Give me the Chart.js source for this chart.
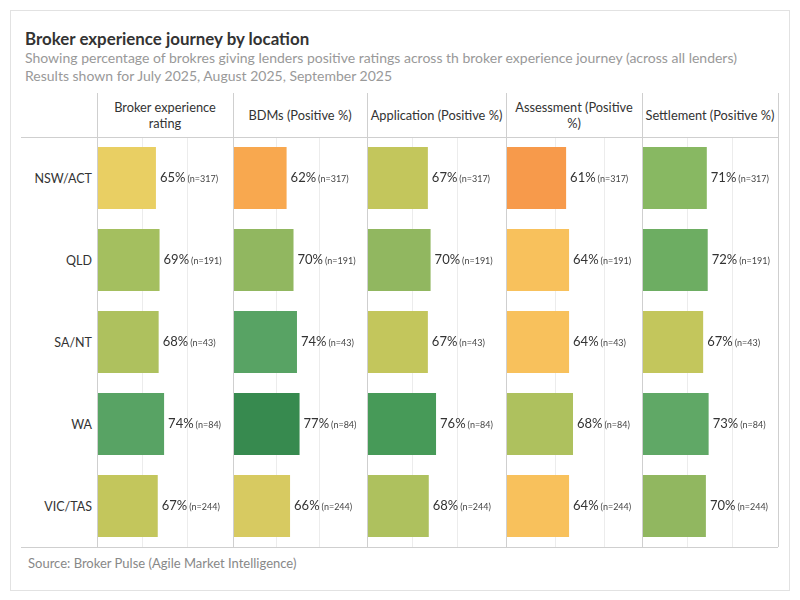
<!DOCTYPE html>
<html>
<head>
<meta charset="utf-8">
<script src="https://cdn.jsdelivr.net/npm/chart.js@4.4.1/dist/chart.umd.min.js"></script>
<style>
  body { margin: 0; background: #fff; font-family: Lato, sans-serif; width: 800px; height: 600px; position: relative; overflow: hidden; }
  .abs { position: absolute; }
  #card { left: 10px; top: 10px; width: 780px; height: 581px; border: 1px solid #e2e2e2; box-sizing: border-box; }
  #title { left: 25px; top: 28px; font-size: 16.9px; font-weight: bold; color: #333; }
  .sub { left: 25px; font-size: 14px; color: #999; }
  .hdr { top: 93px; height: 44px; display: flex; align-items: center; justify-content: center; text-align: center; font-size: 12.8px; line-height: 16px; color: #333; white-space: nowrap; }
  .vline { width: 1px; background: #cfcfcf; }
  .hline { height: 1px; background: #cfcfcf; }
  .rowlbl { width: 80px; left: 12px; text-align: right; font-size: 12.5px; color: #333; transform: translateY(-50%); }
  #source { left: 28px; top: 555px; font-size: 13px; color: #888; }
</style>
</head>
<body>
<div id="card" class="abs"></div>
<div id="title" class="abs">Broker experience journey by location</div>
<div class="abs sub" style="top:49px">Showing percentage of brokres giving lenders positive ratings across th broker experience journey (across all lenders)</div>
<div class="abs sub" style="top:67px">Results shown for July 2025, August 2025, September 2025</div>
<div id="source" class="abs">Source: Broker Pulse (Agile Market Intelligence)</div>
<div id="grid"></div>

<script>
// rows and sample sizes
const locations = ["NSW/ACT", "QLD", "SA/NT", "WA", "VIC/TAS"];
const sampleSizes = [317, 191, 43, 84, 244];

// column headers (\n = line break as in the original header)
const measures = ["Broker experience\nrating", "BDMs (Positive %)", "Application (Positive %)", "Assessment (Positive\n%)", "Settlement (Positive %)"];

// positive % per location
const brokerExperience = [65, 69, 68, 74, 67];
const bdms = [62, 70, 74, 77, 66];
const application = [67, 70, 67, 76, 68];
const assessment = [61, 64, 64, 68, 64];
const settlement = [71, 72, 67, 73, 70];

const seriesList = [brokerExperience, bdms, application, assessment, settlement];

// layout
const panelEdges = [97, 233, 367, 506, 642, 778];
const axisMax = [150, 155, 153, 138, 149];  // each column has its own axis
const bodyTop = 137, bodyBottom = 547, headerTop = 93;

// orange -> yellow -> green ramp on the value
const rampStops = [
  [61, [247, 154, 75]], [62, [248, 168, 79]], [64, [248, 193, 92]], [65, [233, 207, 99]],
  [66, [215, 202, 97]], [67, [195, 198, 92]], [68, [174, 193, 94]], [69, [164, 191, 95]],
  [70, [145, 183, 96]], [71, [136, 184, 98]], [72, [109, 173, 98]], [73, [96, 168, 102]],
  [74, [88, 163, 100]], [76, [71, 154, 88]], [77, [55, 138, 79]]
];
function rampColor(v) {
  if (v <= rampStops[0][0]) return "rgb(" + rampStops[0][1].join(",") + ")";
  for (let i = 1; i < rampStops.length; i++) {
    const [v1, c1] = rampStops[i];
    const [v0, c0] = rampStops[i - 1];
    if (v <= v1) {
      const t = (v - v0) / (v1 - v0);
      const c = c0.map((a, k) => Math.round(a + (c1[k] - a) * t));
      return "rgb(" + c.join(",") + ")";
    }
  }
  return "rgb(" + rampStops[rampStops.length - 1][1].join(",") + ")";
}

const grid = document.getElementById("grid");
function addDiv(cls, style, text) {
  const d = document.createElement("div");
  d.className = "abs " + cls;
  Object.assign(d.style, style);
  if (text) d.innerText = text;
  grid.appendChild(d);
  return d;
}

// === ETIQUETAS DE VALOR ===
const valueLabels = {
  id: "valueLabels",
  afterDatasetsDraw(chart) {
    const ctx = chart.ctx;
    const data = chart.data.datasets[0].data;
    chart.getDatasetMeta(0).data.forEach((bar, i) => {
      const pct = data[i] + "%";
      ctx.save();
      ctx.textBaseline = "middle";
      ctx.fillStyle = "#333";
      ctx.font = "13px Lato";
      ctx.fillText(pct, bar.x + 4, bar.y);
      const w = ctx.measureText(pct).width;
      ctx.font = "9px Lato";
      ctx.fillStyle = "#444";
      ctx.fillText("(n=" + sampleSizes[i] + ")", bar.x + 4 + w + 2, bar.y + 1);
      ctx.restore();
    });
  }
};

const rowH = (bodyBottom - bodyTop) / locations.length;

// === PANELES ===
seriesList.forEach((values, p) => {
  const left = panelEdges[p], width = panelEdges[p + 1] - panelEdges[p];
  const canvas = document.createElement("canvas");
  canvas.width = width;
  canvas.height = bodyBottom - bodyTop;
  canvas.className = "abs";
  canvas.style.left = left + "px";
  canvas.style.top = bodyTop + "px";
  grid.appendChild(canvas);

  new Chart(canvas, {
    type: "bar",
    data: {
      labels: locations,
      datasets: [{
        data: values,
        backgroundColor: values.map(rampColor),
        categoryPercentage: 1,
        barPercentage: 0.755,
        borderWidth: 0
      }]
    },
    options: {
      indexAxis: "y",
      responsive: false,
      animation: false,
      layout: { padding: 0 },
      plugins: { legend: { display: false }, tooltip: { enabled: false } },
      scales: {
        x: {
          min: 0,
          max: axisMax[p],
          ticks: { display: false, stepSize: 50 },
          border: { display: false },
          grid: {
            drawTicks: false,
            color: ctx => (ctx.tick && ctx.tick.value === 0) ? "rgba(0,0,0,0)" : "#ececec"
          }
        },
        y: { display: false }
      }
    },
    plugins: [valueLabels]
  });

  addDiv("hdr", { left: left + "px", width: width + "px" }, measures[p]);
});

// lines of the table
panelEdges.forEach(x => addDiv("vline", { left: x + "px", top: headerTop + "px", height: (bodyBottom - headerTop) + "px" }));
addDiv("hline", { left: "21px", top: bodyTop + "px", width: (panelEdges[5] - 21) + "px" });
addDiv("hline", { left: "21px", top: bodyBottom + "px", width: (panelEdges[5] - 21) + "px" });

locations.forEach((loc, i) => addDiv("rowlbl", { top: (bodyTop + rowH * i + rowH / 2) + "px" }, loc));
</script>
</body>
</html>
